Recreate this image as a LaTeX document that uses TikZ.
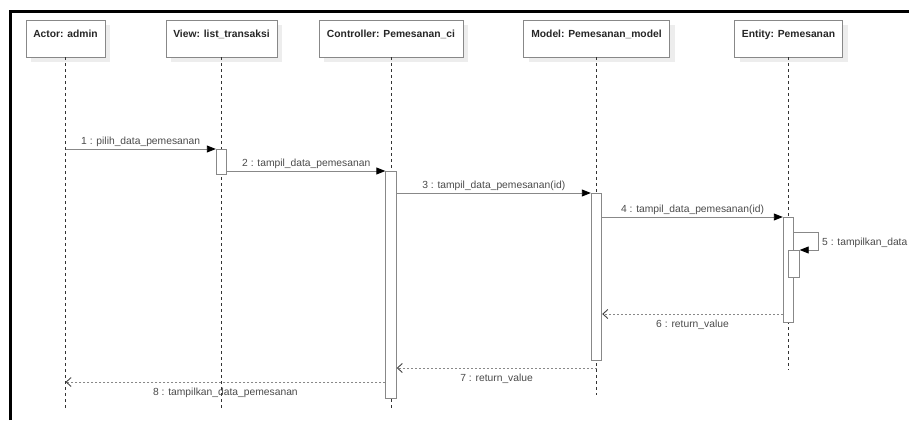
\documentclass[tikz,border=0pt]{standalone}
\usepackage{fontspec}
\setmainfont{Liberation Sans}
\usetikzlibrary{arrows.meta,positioning,shadows}
\definecolor{linegray}{HTML}{888888}
\definecolor{textgray}{HTML}{4A4A4A}
\tikzstyle{obj}=[draw=linegray, fill=white, anchor=north, inner xsep=4pt, inner ysep=5pt, text height=12pt, text depth=15pt, font=\fontsize{10.3}{12}\selectfont\bfseries, text=black!85, drop shadow={shadow xshift=5pt, shadow yshift=-5pt, fill=black!7, opacity=1}]
\tikzstyle{act}=[draw=linegray, fill=white, anchor=north, minimum width=10.5pt, inner sep=0pt, line width=0.9pt]
\tikzstyle{life}=[black!80, dash pattern=on 3pt off 3pt]
\tikzstyle{msg}=[draw=linegray, line width=0.9pt, -{Triangle[length=9pt,width=7pt,color=black]}]
\tikzstyle{ret}=[draw=linegray, line width=0.9pt, dash pattern=on 2pt off 2pt, -{Straight Barb[length=5pt,width=9pt,color=black!75]}]
\tikzstyle{lbl}=[font=\fontsize{10.3}{12}\selectfont, text=textgray, inner sep=2pt]

\begin{document}
\begin{tikzpicture}[x=1pt,y=-1pt]
    \useasboundingbox (0,0) rectangle (909,420);
    % frame
    \draw[line width=3pt] (10,420) -- (10,11.5) -- (909,11.5);

    % objects
    \node [obj, minimum width=79pt] (admin) at (65.5,20) {Actor: admin};
    \node [obj, minimum width=111pt] (view) at (221.5,20) {View: list\_transaksi};
    \node [obj, minimum width=144pt] (ctrl) at (391,20) {Controller: Pemesanan\_ci};
    \node [obj, minimum width=146pt] (model) at (596.5,20) {Model: Pemesanan\_model};
    \node [obj, minimum width=108pt] (entity) at (788.5,20) {Entity: Pemesanan};

    % lifelines
    \coordinate (adminEnd) at (65.5,410);
    \coordinate (viewEnd) at (221.5,410);
    \coordinate (ctrlEnd) at (391,410);
    \coordinate (modelEnd) at (596.5,395);
    \coordinate (entityEnd) at (788.5,370);
    \draw[life] (admin.south) -- (adminEnd);
    \draw[life] (view.south) -- (viewEnd);
    \draw[life] (ctrl.south) -- (ctrlEnd);
    \draw[life] (model.south) -- (modelEnd);
    \draw[life] (entity.south) -- (entityEnd);

    % activations
    \node [act, minimum height=25pt] (v1) at (221.5,149) {};
    \node [act, minimum height=227pt] (c1) at (391,171) {};
    \node [act, minimum height=167pt] (m1) at (596.5,193) {};
    \node [act, minimum height=105pt] (e1) at (788.5,217) {};
    \node [act, minimum height=27pt] (e2) at (794,250) {};

    % messages
    \coordinate (s1) at (65.5,149);
    \coordinate (loop5) at (818,241);
    \draw[msg] (s1) -- (v1.north west) node [lbl, midway, above] {1 : pilih\_data\_pemesanan};
    \draw[msg] (v1.east |- c1.north) -- (c1.north west) node [lbl, midway, above] {2 : tampil\_data\_pemesanan};
    \draw[msg] (c1.east |- m1.north) -- (m1.north west) node [lbl, midway, above] {3 : tampil\_data\_pemesanan(id)};
    \draw[msg] (m1.east |- e1.north) -- (e1.north west) node [lbl, midway, above] {4 : tampil\_data\_pemesanan(id)};
    \draw[msg] (e1.east |- 0,232) -| (loop5) |- (e2.north east);
    \node [lbl, anchor=west] (l5) at (820,243) {5 : tampilkan\_data};
    \draw[ret] (e1.west |- 0,314) -- (m1.east |- 0,314) node [lbl, midway, below=3.3pt] {6 : return\_value};
    \draw[ret] (m1.south |- 0,368) -- (c1.east |- 0,368) node [lbl, midway, below=3.3pt] {7 : return\_value};
    \draw[ret] (c1.west |- 0,382) -- (admin.south |- 0,382) node [lbl, midway, below=3.3pt] {8 : tampilkan\_data\_pemesanan};
\end{tikzpicture}
\end{document}
